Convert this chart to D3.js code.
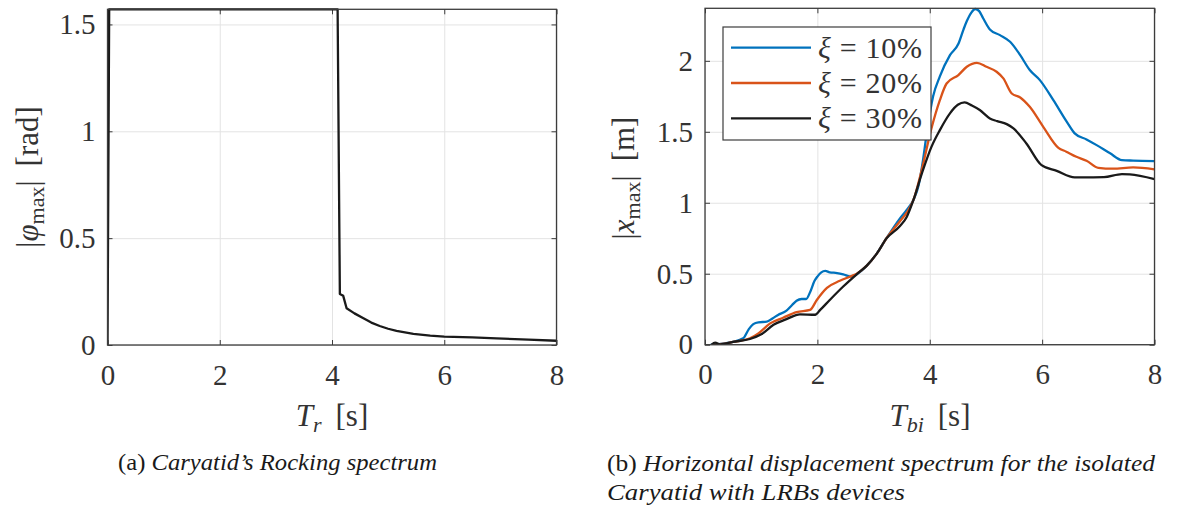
<!DOCTYPE html>
<html lang="en">
<head>
<meta charset="UTF-8">
<title>Caryatid spectra</title>
<script src="https://d3js.org/d3.v7.min.js"></script>
<style>
  body { margin: 0; background: #fff; }
  svg { display: block; font-family: 'Liberation Serif', 'Times New Roman', Times, Tinos, 'Nimbus Roman', serif; }
  .tick text { font-size: 29px; fill: #333; }
  .grid line { stroke: #e3e3e3; stroke-width: 1; }
  .grid path { display: none; }
  .ax path { display: none; }
  .ax line { stroke: #3c3c3c; stroke-width: 1; }
  .box { fill: none; stroke: #3c3c3c; stroke-width: 1.3; }
  .lbl { font-size: 31px; fill: #333; }
  .cap { font-size: 23px; fill: #1a1a1a; }
</style>
</head>
<body>
<svg id="chart" width="1184" height="508"></svg>
<script>
// (a) rocking spectrum
const rockT   = [0, 0.03, 4.1, 4.14, 4.2, 4.26, 4.4, 4.56, 4.7, 4.85, 5.0, 5.15, 5.45, 5.75, 6.0, 6.5, 6.93, 7.5, 8];
const rockPhi = [0, 1.5708, 1.5708, 0.239, 0.23, 0.172, 0.148, 0.125, 0.105, 0.089, 0.076, 0.066, 0.052, 0.044, 0.039, 0.036, 0.031, 0.025, 0.02];

// (b) displacement spectra, xi = 10 / 20 / 30 %
const t10 = [0.1, 0.2, 0.35, 0.5, 0.68, 0.78, 0.86, 0.95, 1.1, 1.2, 1.3, 1.45, 1.55, 1.63, 1.72, 1.8, 1.87, 1.95, 2.0, 2.07, 2.14, 2.22, 2.35, 2.46, 2.6, 2.7, 2.88, 3.06, 3.23, 3.47, 3.59, 3.71, 3.8, 3.88, 3.95, 4.06, 4.18, 4.36, 4.51, 4.6, 4.66, 4.74, 4.81, 4.88, 4.95, 5.07, 5.25, 5.43, 5.61, 5.78, 5.96, 6.2, 6.44, 6.58, 6.79, 6.97, 7.21, 7.42, 7.62, 8];
const x10 = [0, 0.003, 0.01, 0.02, 0.045, 0.11, 0.145, 0.158, 0.162, 0.185, 0.21, 0.24, 0.28, 0.31, 0.322, 0.322, 0.37, 0.45, 0.48, 0.51, 0.52, 0.51, 0.505, 0.496, 0.48, 0.497, 0.557, 0.643, 0.75, 0.89, 0.95, 1.02, 1.12, 1.3, 1.5, 1.75, 1.89, 2.04, 2.12, 2.22, 2.28, 2.34, 2.365, 2.35, 2.3, 2.221, 2.181, 2.134, 2.04, 1.935, 1.864, 1.723, 1.57, 1.489, 1.446, 1.406, 1.348, 1.3, 1.297, 1.294];

const t20 = [0.12, 0.3, 0.5, 0.8, 0.95, 1.16, 1.39, 1.63, 1.87, 1.99, 2.17, 2.4, 2.61, 2.7, 2.88, 3.06, 3.23, 3.47, 3.59, 3.71, 3.85, 4.03, 4.18, 4.3, 4.51, 4.66, 4.84, 5.01, 5.19, 5.31, 5.46, 5.61, 5.78, 6.02, 6.29, 6.43, 6.61, 6.79, 7.0, 7.26, 7.62, 8];
const x20 = [0, 0.005, 0.02, 0.045, 0.08, 0.15, 0.19, 0.23, 0.245, 0.315, 0.4, 0.45, 0.484, 0.5, 0.557, 0.643, 0.75, 0.87, 0.93, 1.02, 1.22, 1.524, 1.723, 1.84, 1.9, 1.958, 1.986, 1.958, 1.923, 1.876, 1.77, 1.742, 1.676, 1.535, 1.387, 1.36, 1.324, 1.296, 1.246, 1.24, 1.249, 1.235];

const t30 = [0.12, 0.18, 0.27, 0.5, 0.8, 1.01, 1.22, 1.45, 1.69, 1.96, 2.05, 2.22, 2.46, 2.7, 2.88, 3.06, 3.23, 3.47, 3.59, 3.71, 3.86, 4.03, 4.18, 4.36, 4.5, 4.62, 4.75, 4.89, 5.07, 5.2, 5.37, 5.49, 5.72, 5.99, 6.26, 6.58, 6.91, 7.1, 7.42, 7.56, 8];
const x30 = [0, 0.015, 0.002, 0.02, 0.04, 0.075, 0.14, 0.18, 0.214, 0.211, 0.245, 0.315, 0.41, 0.496, 0.557, 0.643, 0.749, 0.836, 0.9, 1.02, 1.207, 1.394, 1.512, 1.63, 1.69, 1.707, 1.685, 1.653, 1.594, 1.575, 1.554, 1.524, 1.418, 1.265, 1.225, 1.179, 1.179, 1.18, 1.202, 1.2, 1.167];

const xTicks = [0, 2, 4, 6, 8];
const yTicksA = [0, 0.5, 1, 1.5];
const yTicksB = [0, 0.5, 1, 1.5, 2];
const legendLabels = ['10%', '20%', '30%'];
const seriesColors = ['#0072bd', '#d95319', '#1a1a1a'];

const svg = d3.select('#chart');
const fmt = d => d3.format('')(d);

function panel(id, left, right, bottom, top, yMax, yTicks) {
    const x = d3.scaleLinear().domain([0, 8]).range([left, right]);
    const y = d3.scaleLinear().domain([0, yMax]).range([bottom, top]);
    const g = svg.append('g');

    // grid
    g.append('g').attr('class', 'grid')
        .attr('transform', `translate(0,${top})`)
        .call(d3.axisBottom(x).tickValues(xTicks).tickSize(bottom - top).tickFormat(''));
    g.append('g').attr('class', 'grid')
        .attr('transform', `translate(${left},0)`)
        .call(d3.axisRight(y).tickValues(yTicks).tickSize(right - left).tickFormat(''));

    g.append('clipPath').attr('id', id)
        .append('rect').attr('x', left).attr('y', top - 2)
        .attr('width', right - left).attr('height', bottom - top + 2);

    // ticks, inside, on all four sides
    g.append('g').attr('class', 'ax')
        .attr('transform', `translate(0,${bottom})`)
        .call(d3.axisBottom(x).tickValues(xTicks).tickSizeInner(-5).tickSizeOuter(0).tickPadding(19).tickFormat(fmt));
    g.append('g').attr('class', 'ax')
        .attr('transform', `translate(0,${top})`)
        .call(d3.axisTop(x).tickValues(xTicks).tickSizeInner(-5).tickSizeOuter(0).tickFormat(''));
    g.append('g').attr('class', 'ax')
        .attr('transform', `translate(${left},0)`)
        .call(d3.axisLeft(y).tickValues(yTicks).tickSizeInner(-5).tickSizeOuter(0).tickPadding(12).tickFormat(fmt));
    g.append('g').attr('class', 'ax')
        .attr('transform', `translate(${right},0)`)
        .call(d3.axisRight(y).tickValues(yTicks).tickSizeInner(-5).tickSizeOuter(0).tickFormat(''));

    g.selectAll('.ax').attr('font-size', null).attr('font-family', null);

    return { g, x, y, left, right, top, bottom };
}

function drawLine(p, clipId, ts, vs, color, curve) {
    const pts = ts.map((t, i) => [t, vs[i]]);
    p.g.append('path')
        .datum(pts)
        .attr('clip-path', `url(#${clipId})`)
        .attr('fill', 'none')
        .attr('stroke', color)
        .attr('stroke-width', 2.3)
        .attr('stroke-linejoin', 'round')
        .attr('d', d3.line().x(d => p.x(d[0])).y(d => p.y(d[1])).curve(curve));
}

function box(p) {
    p.g.append('rect').attr('class', 'box')
        .attr('x', p.left).attr('y', p.top)
        .attr('width', p.right - p.left).attr('height', p.bottom - p.top);
}

// ---------- (a)
const pa = panel('clipA', 107.5, 556.5, 345, 9.3, 1.5708, yTicksA);
drawLine(pa, 'clipA', rockT, rockPhi, '#1a1a1a', d3.curveLinear);
box(pa);

// ---------- (b)
const pb = panel('clipB', 705, 1154.5, 344.7, 8.3, 2.37, yTicksB);
drawLine(pb, 'clipB', t10, x10, seriesColors[0], d3.curveMonotoneX);
drawLine(pb, 'clipB', t20, x20, seriesColors[1], d3.curveMonotoneX);
drawLine(pb, 'clipB', t30, x30, seriesColors[2], d3.curveMonotoneX);
box(pb);

// legend
const leg = pb.g.append('g');
leg.append('rect').attr('x', 723).attr('y', 27).attr('width', 208).attr('height', 113)
    .attr('fill', '#fff').attr('stroke', '#3c3c3c').attr('stroke-width', 1.2);
legendLabels.forEach((lab, i) => {
    const ly = 47.7 + i * 35.3;
    leg.append('line').attr('x1', 731).attr('x2', 811).attr('y1', ly).attr('y2', ly)
        .attr('stroke', seriesColors[i]).attr('stroke-width', 2.3);
    const t = leg.append('text').attr('x', 818).attr('y', ly).attr('dy', '0.33em')
        .attr('font-size', 30).attr('fill', '#333')
        .attr('textLength', 104).attr('lengthAdjust', 'spacing');
    t.append('tspan').attr('font-style', 'italic').text('ξ');
    t.append('tspan').text(' = ' + lab);
});

// axis labels
function xLabel(cx, sub) {
    const t = svg.append('text').attr('class', 'lbl').attr('x', cx).attr('y', 426).attr('text-anchor', 'middle');
    t.append('tspan').attr('font-style', 'italic').text('T');
    t.append('tspan').attr('font-style', 'italic').attr('font-size', 22).attr('dy', 6).text(sub);
    t.append('tspan').attr('dy', -6).text('\u2009 [s]');
}
xLabel(332, 'r');
xLabel(930, 'bi');

function yLabel(bx, cy, sym) {
    const t = svg.append('text').attr('class', 'lbl')
        .attr('transform', `translate(${bx},${cy}) rotate(-90)`).attr('text-anchor', 'middle');
    t.append('tspan').text('|');
    t.append('tspan').attr('font-style', 'italic').text(sym.v);
    t.append('tspan').attr('font-size', 22).attr('dy', 6).text('max');
    t.append('tspan').attr('dy', -6).text('| \u2009' + sym.unit);
}
yLabel(38, 177, { v: 'φ', unit: '[rad]' });
yLabel(634, 178, { v: 'x', unit: '[m]' });

// captions
const capA = svg.append('text').attr('class', 'cap').attr('x', 118).attr('y', 470)
    .attr('textLength', 319).attr('lengthAdjust', 'spacingAndGlyphs');
capA.append('tspan').text('(a) ');
capA.append('tspan').attr('font-style', 'italic').text('Caryatid’s Rocking spectrum');

const capB1 = svg.append('text').attr('class', 'cap').attr('x', 607).attr('y', 471)
    .attr('textLength', 548).attr('lengthAdjust', 'spacingAndGlyphs');
capB1.append('tspan').text('(b) ');
capB1.append('tspan').attr('font-style', 'italic').text('Horizontal displacement spectrum for the isolated');
svg.append('text').attr('class', 'cap').attr('x', 607).attr('y', 500)
    .attr('textLength', 298).attr('lengthAdjust', 'spacingAndGlyphs')
    .attr('font-style', 'italic').text('Caryatid with LRBs devices');
</script>
</body>
</html>
